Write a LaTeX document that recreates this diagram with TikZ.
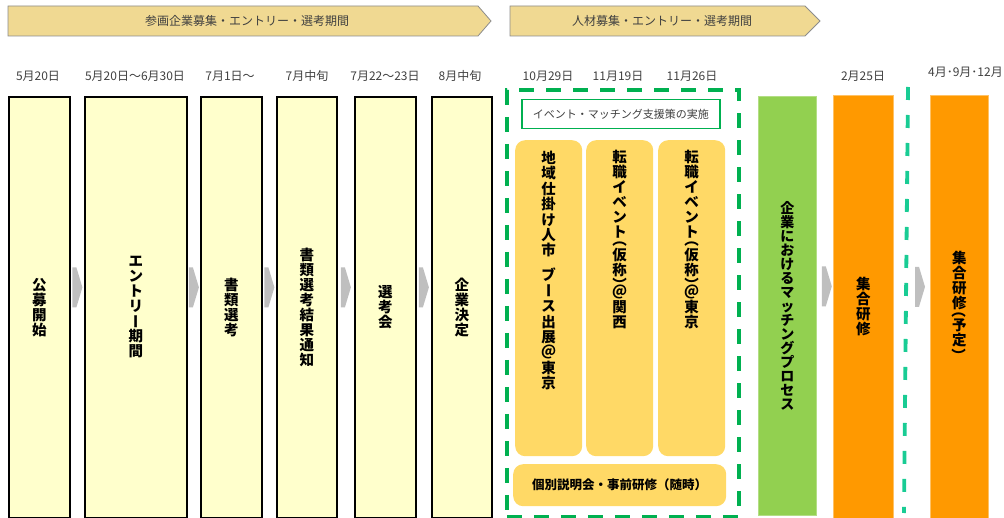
\documentclass[tikz,border=0pt]{standalone}
\usepackage{fontspec}
\usepackage{graphicx}
\newfontfamily\jp{Noto Sans CJK JP}
\usetikzlibrary{calc}
\definecolor{bannerfill}{HTML}{F0D992}
\definecolor{bannerline}{HTML}{8C8C8C}
\definecolor{pale}{HTML}{FFFFCC}
\definecolor{gold}{HTML}{FFD966}
\definecolor{lgreen}{HTML}{92D050}
\definecolor{orng}{HTML}{FF9900}
\definecolor{dgreen}{HTML}{00B050}
\definecolor{tealc}{HTML}{19CC94}
\definecolor{chevgray}{HTML}{BFBFBF}
\definecolor{txt}{HTML}{404040}
\newcommand\vr[1]{\rotatebox[origin=c]{-90}{\makebox[1em]{\rule[-0.12em]{0pt}{1em}#1}}}
\newcommand\chev[1]{\fill[chevgray] (#1) ++(-5,-20) -- ++(4,0) -- ++(6,20) -- ++(-6,20) -- ++(-4,0) -- cycle;}
\begin{document}
\begin{tikzpicture}[x=1pt,y=-1pt,
  banner/.style={draw=bannerline, fill=bannerfill, line width=0.8pt},
  bannertxt/.style={font=\jp\fontsize{12}{14}\selectfont, text=txt, inner sep=0pt},
  datelbl/.style={font=\jp\fontsize{12}{14}\selectfont, text=txt, inner sep=0pt},
  vt/.style={font=\jp\bfseries\fontsize{14.5}{15}\selectfont, align=center, inner sep=0pt, text=black},
  ybox/.style={draw=black, line width=1.8pt, fill=pale, anchor=north west, minimum height=421, vt},
  gbox/.style={fill=gold, rounded corners=10pt, anchor=north west, minimum width=67, minimum height=316, inner sep=0pt},
  obox/.style={fill=orng, draw=orng!60!white, line width=0.6pt, anchor=north west, minimum height=423, vt},
  grp/.style={draw=dgreen, line width=3.6pt, dash pattern=on 15pt off 12pt, anchor=north west, inner sep=0pt},
]
\useasboundingbox (0,0) rectangle (1004,518);

% banners
\draw[banner] (8,6) -- (478,6) -- (491,21) -- (478,36) -- (8,36) -- cycle;
\node[bannertxt] (h1) at (247,21) {参画企業募集・エントリー・選考期間};
\draw[banner] (510,6) -- (805,6) -- (820,21) -- (805,36) -- (510,36) -- cycle;
\node[bannertxt] (h2) at (662,21) {人材募集・エントリー・選考期間};

% dates
\node[datelbl] (d1) at (38,76) {5月20日};
\node[datelbl] (d2) at (135,76) {5月20日～6月30日};
\node[datelbl] (d3) at (230,76) {7月1日～};
\node[datelbl] (d4) at (307,76) {7月中旬};
\node[datelbl] (d5) at (385,76) {7月22～23日};
\node[datelbl] (d6) at (460,76) {8月中旬};
\node[datelbl] (d7) at (548,76) {10月29日};
\node[datelbl] (d8) at (618,76) {11月19日};
\node[datelbl] (d9) at (692,76) {11月26日};
\node[datelbl] (d10) at (863,76) {2月25日};
\node[datelbl, anchor=east] (d11) at (1003,72) {4月･9月･12月};

% yellow boxes
\node[ybox, minimum width=61] (b1) at (8,96) {公\\募\\開\\始};
\node[ybox, minimum width=102] (b2) at (84,96) {エ\\ン\\ト\\リ\\\vr{ー}\\期\\間};
\node[ybox, minimum width=61] (b3) at (200,96) {書\\類\\選\\考};
\node[ybox, minimum width=60] (b4) at (276,96) {書\\類\\選\\考\\結\\果\\通\\知};
\node[ybox, minimum width=61] (b5) at (354,96) {選\\考\\会};
\node[ybox, minimum width=60] (b6) at (431,96) {企\\業\\決\\定};

% event group
\node[grp, minimum width=232, minimum height=427] (g) at (505,88) {};
\node[draw=dgreen, line width=1.5pt, fill=white, anchor=north west, minimum width=198, minimum height=29, inner sep=0pt,
      font=\jp\fontsize{11}{13}\selectfont, text=txt] (sup) at (521,99) {イベント・マッチング支援策の実施};
\node[gbox] (ea) at (515,140) {};
\node[gbox] (eb) at (586,140) {};
\node[gbox] (ec) at (658,140) {};
\node[vt, anchor=north, font=\jp\bfseries\fontsize{14.5}{15.4}\selectfont] (ta) at ($(ea.north)+(0,11)$) {地\\域\\仕\\掛\\け\\人\\市\\[9.6pt]ブ\\\vr{ー}\\ス\\出\\展\\＠\\東\\京};
\node[vt, anchor=north] (tb) at ($(eb.north)+(0,10)$) {転\\職\\イ\\ベ\\ン\\ト\\[-7.5pt]\vr{（}\\仮\\称\\\vr{）}\\[-7.5pt]＠\\関\\西};
\node[vt, anchor=north] (tc) at ($(ec.north)+(0,10)$) {転\\職\\イ\\ベ\\ン\\ト\\[-7.5pt]\vr{（}\\仮\\称\\\vr{）}\\[-7.5pt]＠\\東\\京};
\node[fill=gold, rounded corners=10pt, anchor=north west, minimum width=213, minimum height=42, inner sep=0pt,
      font=\jp\bfseries\fontsize{12.5}{14}\selectfont] (ind) at (513,464) {個別説明会・事前研修（随時）};

% matching process
\node[fill=lgreen, draw=lgreen!70!white, line width=0.6pt, anchor=north west, minimum width=58, minimum height=419,
      vt, font=\jp\bfseries\fontsize{14}{14}\selectfont] (m) at (758,96) {企\\業\\に\\お\\け\\る\\マ\\ッ\\チ\\ン\\グ\\プ\\ロ\\セ\\ス};

% training
\node[obox, minimum width=60] (o1) at (833,95) {集\\合\\研\\修};
\node[obox, minimum width=58] (o2) at (930,95) {集\\合\\研\\修\\[-7.5pt]\vr{（}\\予\\定\\\vr{）}};

% teal divider
\coordinate (tl1) at (908,87);
\coordinate (tl2) at (904,513);
\draw[tealc, line width=3.8pt, dash pattern=on 13pt off 15pt] (tl1) -- (tl2);

% chevrons
\chev{$(b1.east)!0.5!(b2.west)+(0,-20)$}
\chev{$(b2.east)!0.5!(b3.west)+(0,-20)$}
\chev{$(b3.east)!0.5!(b4.west)+(0,-20)$}
\chev{$(b4.east)!0.5!(b5.west)+(0,-20)$}
\chev{$(b5.east)!0.5!(b6.west)+(0,-20)$}
\chev{$(m.east)!0.5!(o1.west)+(2,-20)$}
\chev{$(o2.west)+(-10,-20)$}
\end{tikzpicture}
\end{document}
